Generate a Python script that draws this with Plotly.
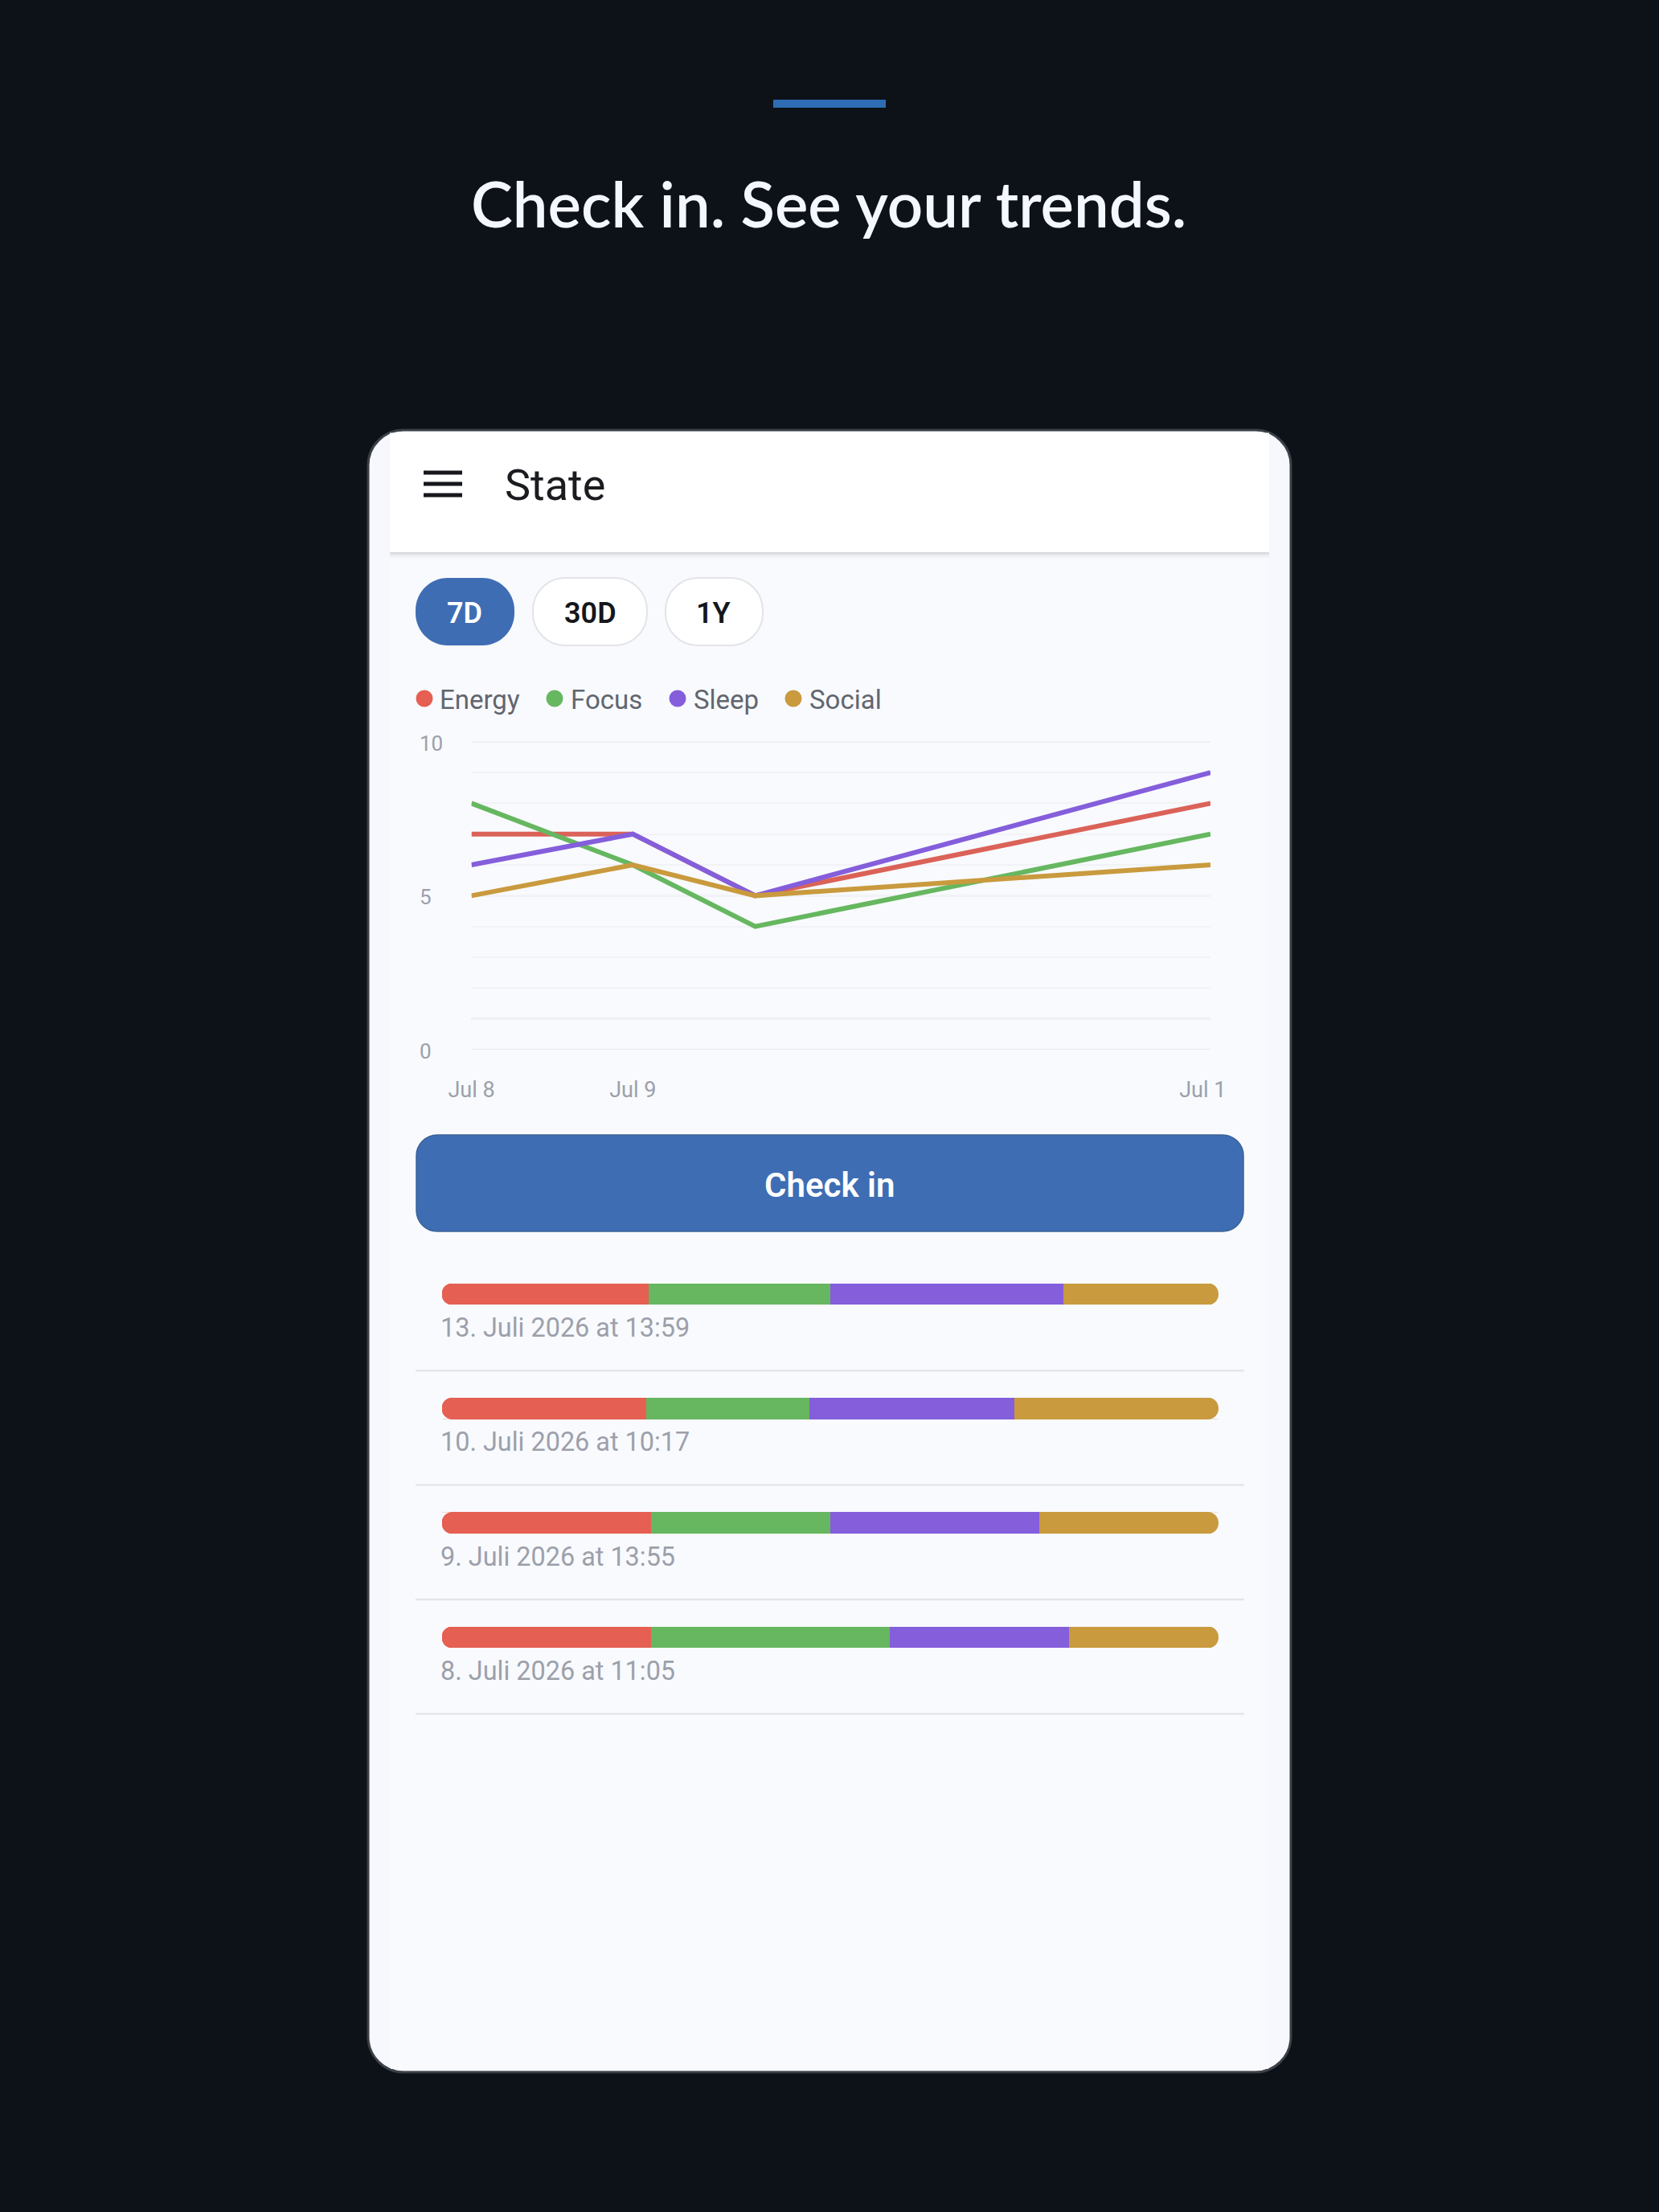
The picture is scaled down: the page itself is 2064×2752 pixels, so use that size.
import plotly.graph_objects as go

# page size, everything in the app mockup is placed in pixels and converted to paper
W, H = 2064, 2752

# chart data (one value per check-in, oldest first)
dates = ["2026-07-08 11:05", "2026-07-09 13:55", "2026-07-10 10:17", "2026-07-13 13:59"]
series_names = ["Energy", "Focus", "Sleep", "Social"]
energy = [7, 7, 5, 8]
focus = [8, 6, 4, 7]
sleep = [6, 7, 5, 9]
social = [5, 6, 5, 6]
row_labels = ["8. Juli 2026 at 11:05", "9. Juli 2026 at 13:55",
              "10. Juli 2026 at 10:17", "13. Juli 2026 at 13:59"]
y_grid = [0, 1, 2, 3, 4, 5, 6, 7, 8, 9, 10]
y_major = [0, 5, 10]
x_tickvals = ["2026-07-08 11:05", "2026-07-09 13:55", "2026-07-13 12:41"]
x_ticktext = ["Jul 8", "Jul 9", "Jul 1"]
pills = ["7D", "30D", "1Y"]

all_series = [energy, focus, sleep, social]
colors = ["#E55F52", "#66B760", "#845EDB", "#C99A3E"]
line_colors = ["#DB6258", "#66B760", "#845EDB", "#C99A3E"]

BG = "#0D1118"
PANEL = "#F8FAFE"
BLUE = "#3F6DB3"
MUTED = "#9CA0AA"


def px(x):
    return x / W


def py(y):
    return 1 - y / H


def rect_path(x0, y0, x1, y1, r):
    k = r * 0.45
    pts = [
        f"M{px(x0 + r)},{py(y0)}", f"L{px(x1 - r)},{py(y0)}",
        f"C{px(x1 - k)},{py(y0)} {px(x1)},{py(y0 + k)} {px(x1)},{py(y0 + r)}",
        f"L{px(x1)},{py(y1 - r)}",
        f"C{px(x1)},{py(y1 - k)} {px(x1 - k)},{py(y1)} {px(x1 - r)},{py(y1)}",
        f"L{px(x0 + r)},{py(y1)}",
        f"C{px(x0 + k)},{py(y1)} {px(x0)},{py(y1 - k)} {px(x0)},{py(y1 - r)}",
        f"L{px(x0)},{py(y0 + r)}",
        f"C{px(x0)},{py(y0 + k)} {px(x0 + k)},{py(y0)} {px(x0 + r)},{py(y0)}",
        "Z",
    ]
    return " ".join(pts)


shapes = []
annotations = []


def box(x0, y0, x1, y1, fill, r=0, line=None, lw=0):
    shapes.append(dict(type="path", path=rect_path(x0, y0, x1, y1, r), xref="paper", yref="paper",
                       fillcolor=fill, line=dict(color=line or fill, width=lw), layer="below"))


def label(x, y, text, size, color, anchor="left", weight=400, family="Roboto"):
    annotations.append(dict(x=px(x), y=py(y), xref="paper", yref="paper", text=text, showarrow=False,
                            xanchor=anchor, yanchor="middle",
                            font=dict(size=size, color=color, family=family, weight=weight)))


fig = go.Figure()

# trend lines
for name, vals, col in zip(series_names, all_series, line_colors):
    fig.add_trace(go.Scatter(x=dates, y=vals, mode="lines", name=name,
                             line=dict(color=col, width=6), xaxis="x", yaxis="y", showlegend=False))

# share bars, same values, newest on top
for name, vals, col in zip(series_names, all_series, colors):
    fig.add_trace(go.Bar(x=vals, y=row_labels, orientation="h", name=name, marker=dict(color=col, line=dict(width=0)),
                         width=0.186, xaxis="x2", yaxis="y2", showlegend=False))

# top accent + title
box(962, 124, 1102, 134, "#2E6DB4")
label(1031, 253, "Check in. See your trends.", 78, "#F4F7FE", "center", 600, "Lato")

# phone card
box(458, 535, 1606, 2578, "#F7F8FD", 44, "#3B4048", 3)
box(486, 690, 1578, 2574, PANEL)
box(485, 538.5, 1579, 687, "#FFFFFF")
for i, o in enumerate([0.12, 0.07, 0.04, 0.02]):
    shapes.append(dict(type="rect", xref="paper", yref="paper", x0=px(485), x1=px(1579),
                       y0=py(687 + i * 2), y1=py(689 + i * 2), fillcolor="#000000", opacity=o,
                       line=dict(width=0), layer="below"))
for yy in [588, 602, 616]:
    box(527, yy - 2.5, 575, yy + 2.5, "#16181D")
label(626, 603, "State", 54, "#1A1C20")

# range pills
box(517, 719, 640, 803, BLUE, 40)
box(663, 719, 805, 803, "#FFFFFF", 40, "#E3E4E8", 2)
box(828, 719, 949, 803, "#FFFFFF", 40, "#E3E4E8", 2)
for cx, txt, col in zip([578, 734, 888], pills, ["#FFFFFF", "#15171B", "#15171B"]):
    label(cx, 763, txt, 36, col, "center", 600)

# legend
for cx, tx, name, col in zip([528, 690, 843, 987], [545, 708, 861, 1005], series_names, colors):
    shapes.append(dict(type="circle", xref="paper", yref="paper", x0=px(cx - 10.5), x1=px(cx + 10.5),
                       y0=py(869 + 10.5), y1=py(869 - 10.5), fillcolor=col, line=dict(width=0), layer="below"))
    label(tx, 870, name, 33, "#62666E")

# darker gridlines
for v in y_major + [1]:
    shapes.append(dict(type="line", xref="x domain", yref="y", x0=0, x1=1, y0=v, y1=v,
                       line=dict(color="#DFE0E6" if v == 1 else "#EAEBF0", width=2.5), layer="below"))

# y labels are left aligned in the reference
for v in y_major:
    annotations.append(dict(x=px(520), y=v, xref="paper", yref="y", text=str(v), showarrow=False,
                            xanchor="left", yanchor="middle", yshift=-2,
                            font=dict(size=26, color=MUTED, family="Roboto")))

# button
box(518, 1412, 1547, 1532, BLUE, 26, "#3A6399", 1.5)
label(1032, 1474, "Check in", 42, "#FFFFFF", "center", 600)

# rows: label under bar + divider
row_cy = [2037, 1894.7, 1752.3, 1610]
for cy, txt in zip(row_cy, row_labels):
    annotations.append(dict(x=px(546), y=txt, xref="paper", yref="y2", text=txt, showarrow=False,
                            xanchor="left", yanchor="middle", yshift=-42,
                            font=dict(size=32.4, color=MUTED, family="Roboto")))
    box(517, cy + 94, 1548, cy + 96.5, "#E4E6EB")
    # corner masks to round the stacked bar ends
    r = 13
    k = r * 0.45
    for xe, sx in [(549.5, 1), (1516, -1)]:
        for ye, sy in [(cy - 13.5, 1), (cy + 13.5, -1)]:
            path = (f"M{px(xe)},{py(ye)} L{px(xe + sx * r)},{py(ye)} "
                    f"C{px(xe + sx * k)},{py(ye)} {px(xe)},{py(ye + sy * k)} {px(xe)},{py(ye + sy * r)} Z")
            shapes.append(dict(type="path", path=path, xref="paper", yref="paper", fillcolor=PANEL,
                               line=dict(width=0), layer="above"))

fig.update_layout(
    width=W, height=H, margin=dict(l=0, r=0, t=0, b=0, autoexpand=False),
    paper_bgcolor=BG, plot_bgcolor="rgba(0,0,0,0)",
    barmode="stack", barnorm="percent", showlegend=False,
    shapes=shapes, annotations=annotations,
    xaxis=dict(domain=[px(586.5), px(1506)], type="date", range=[dates[0], dates[-1]], automargin=False,
               tickmode="array", tickvals=x_tickvals, ticktext=x_ticktext, showgrid=False, zeroline=False,
               showline=False, ticks="", ticklabelstandoff=31,
               tickfont=dict(size=27, color=MUTED, family="Roboto"), anchor="y"),
    yaxis=dict(domain=[py(1306), py(922.7)], range=[0, 10], tickmode="array", tickvals=y_grid, automargin=False,
               showticklabels=False, gridcolor="#F2F3F7", gridwidth=2, zeroline=False, showline=False,
               anchor="x"),
    xaxis2=dict(domain=[px(549.5), px(1516)], range=[0, 100], visible=False, anchor="y2", automargin=False),
    yaxis2=dict(domain=[py(1610 + 142.33 * 3 + 71.17), py(1610 - 71.17)], range=[-0.5, 3.5], type="category",
                categoryorder="array", categoryarray=row_labels, visible=False, anchor="x2", automargin=False),
)

fig.write_html("out.html", post_script="document.body.style.margin='0';", config=dict(displayModeBar=False))
